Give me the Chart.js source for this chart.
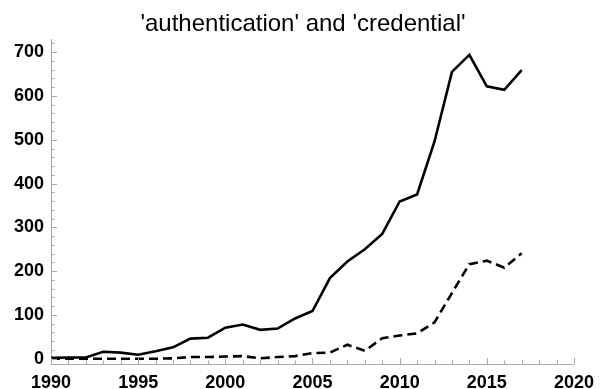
<!DOCTYPE html>
<html>
<head>
<meta charset="utf-8">
<script src="https://cdn.jsdelivr.net/npm/chart.js@4/dist/chart.umd.min.js"></script>
<style>
  html, body { margin: 0; padding: 0; background: #fff; }
</style>
</head>
<body>
<canvas id="grafico" width="602" height="389"></canvas>
<script>
// datos
var years = [1990, 1991, 1992, 1993, 1994, 1995, 1996, 1997, 1998, 1999,
             2000, 2001, 2002, 2003, 2004, 2005, 2006, 2007, 2008, 2009,
             2010, 2011, 2012, 2013, 2014, 2015, 2016, 2017];
var authentication = [2, 3, 3, 16, 14, 9, 17, 26, 46, 48,
                      71, 78, 66, 69, 92, 109, 184, 222, 250, 285,
                      359, 375, 496, 655, 694, 622, 614, 659];
var credential = [0, 0, 0, 0, 0, 0, 0, 1, 4, 4,
                  5, 6, 1, 4, 6, 13, 14, 32, 18, 47,
                  53, 58, 83, 150, 216, 224, 208, 241];
var xTicks = [1990, 1995, 2000, 2005, 2010, 2015, 2020];
var yTicks = [0, 100, 200, 300, 400, 500, 600, 700];

var tickFont = { family: 'Liberation Sans', size: 18, weight: 'bold' };
var axisColor = '#a6a6a6';

// marcas de los ejes hacia dentro, al estilo Mathematica
var marcas = {
    id: 'marcas',
    afterLayout: function(chart) {
        // el titulo del original esta algo a la derecha
        if (chart.titleBlock) chart.titleBlock.left = 27;
    },
    afterDraw: function(chart) {
        var ctx = chart.ctx;
        var xs = chart.scales.x, ys = chart.scales.y;
        var area = chart.chartArea;
        ctx.save();
        ctx.strokeStyle = axisColor;
        ctx.lineWidth = 1;
        ctx.beginPath();
        for (var v = xs.min; v <= xs.max; v++) {
            var px = Math.round(xs.getPixelForValue(v)) + 0.5;
            var len = (v % 5 === 0) ? 6 : 3.5;
            ctx.moveTo(px, area.bottom);
            ctx.lineTo(px, area.bottom - len);
        }
        for (var w = 0; w <= ys.max; w += 20) {
            var py = Math.round(ys.getPixelForValue(w)) + 0.5;
            var l2 = (w % 100 === 0) ? 6 : 3.5;
            ctx.moveTo(area.left, py);
            ctx.lineTo(area.left + l2, py);
        }
        ctx.stroke();
        ctx.restore();
    }
};

var ctx = document.getElementById('grafico').getContext('2d');
var grafico = new Chart(ctx, {
    type: 'line',
    data: {
        datasets: [{
            label: 'authentication',
            data: years.map(function(y, i) { return { x: y, y: authentication[i] }; }),
            borderColor: '#000',
            borderWidth: 2.6,
            pointRadius: 0,
            tension: 0,
            fill: false
        }, {
            label: 'credential',
            data: years.map(function(y, i) { return { x: y, y: credential[i] }; }),
            borderColor: '#000',
            borderWidth: 2.6,
            borderDash: [9, 5],
            pointRadius: 0,
            tension: 0,
            fill: false
        }]
    },
    options: {
        responsive: false,
        animation: false,
        layout: { padding: { left: 0, right: 23, top: 0, bottom: 0 } },
        plugins: {
            legend: { display: false },
            tooltip: { enabled: false },
            title: {
                display: true,
                text: "'authentication' and 'credential'",
                color: '#000',
                font: { family: 'Liberation Sans', size: 24, weight: 'normal' },
                padding: { top: 10, bottom: 0.2 }
            }
        },
        scales: {
            x: {
                type: 'linear',
                min: 1990,
                max: 2020,
                afterBuildTicks: function(scale) {
                    scale.ticks = xTicks.map(function(v) { return { value: v }; });
                },
                afterFit: function(scale) { scale.height = 25; },
                ticks: {
                    color: '#000',
                    font: tickFont,
                    padding: 8,
                    maxRotation: 0,
                    autoSkip: false,
                    callback: function(v) { return String(v); }
                },
                grid: { display: true, drawOnChartArea: false, drawTicks: false },
                border: { display: true, color: axisColor, width: 1 }
            },
            y: {
                min: -12,
                max: 730,
                afterBuildTicks: function(scale) {
                    scale.ticks = yTicks.map(function(v) { return { value: v }; });
                },
                afterFit: function(scale) { scale.width = 51; },
                ticks: {
                    color: '#000',
                    font: tickFont,
                    padding: 7,
                    callback: function(v) { return String(v); }
                },
                grid: { display: true, drawOnChartArea: false, drawTicks: false },
                border: { display: true, color: axisColor, width: 1 }
            }
        }
    },
    plugins: [marcas]
});
</script>
</body>
</html>
